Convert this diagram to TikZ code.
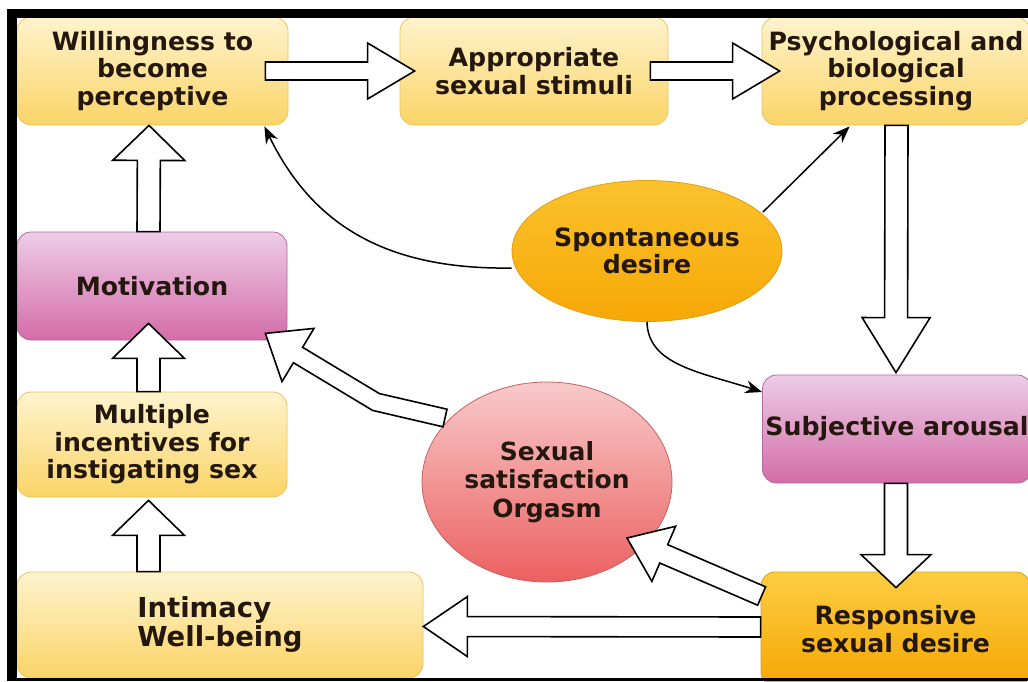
\documentclass[tikz,border=0pt]{standalone}
\usepackage{fontspec}
\setmainfont{DejaVu Sans}
\usetikzlibrary{calc,arrows.meta,shapes.geometric}
\definecolor{txt}{HTML}{24180E}
\definecolor{ytop}{HTML}{FEF3CE}
\definecolor{ybot}{HTML}{FAD466}
\definecolor{yline}{HTML}{E6C467}
\definecolor{ptop}{HTML}{ECCDE8}
\definecolor{pbot}{HTML}{D46CA8}
\definecolor{pline}{HTML}{B46A9E}
\definecolor{otop}{HTML}{FCCD42}
\definecolor{obot}{HTML}{F6A704}
\definecolor{oline}{HTML}{E49E10}
\definecolor{stop}{HTML}{FBC22C}
\definecolor{sbot}{HTML}{F6A806}
\definecolor{rtop}{HTML}{F8CACA}
\definecolor{rbot}{HTML}{EC6060}
\definecolor{rline}{HTML}{C86060}
\tikzset{
  lab/.style={text=txt, font=\bfseries\fontsize{25.2}{27.5}\selectfont, align=center, inner sep=0pt},
  ybox/.style={lab, rounded corners=14pt, draw=yline, line width=0.8pt, top color=ytop, bottom color=ybot},
  pbox/.style={lab, rounded corners=14pt, draw=pline, line width=0.8pt, top color=ptop, bottom color=pbot},
  obox/.style={lab, rounded corners=14pt, draw=oline, line width=0.8pt, top color=otop, bottom color=obot},
  oell/.style={lab, ellipse, draw=oline, line width=0.8pt, top color=stop, bottom color=sbot},
  rell/.style={lab, ellipse, draw=rline, line width=0.8pt, top color=rtop, bottom color=rbot, font=\bfseries\fontsize{25}{28.5}\selectfont},
  barrow/.style={draw=black, fill=white, line width=1.6pt, line join=miter},
  thin/.style={draw=black, line width=1.5pt, -{Stealth[length=17pt,width=13pt]}},
}
% block arrow: from, to, shaft half width, head half width, head length
\newcommand\blockarr[5]{%
  \coordinate (ba-h) at ($(#2)!#5!(#1)$);
  \draw[barrow] ($(#1)!#3!90:(#2)$) -- ($(ba-h)!#3!90:(#2)$) -- ($(ba-h)!#4!90:(#2)$)
     -- (#2) -- ($(ba-h)!#4!-90:(#2)$) -- ($(ba-h)!#3!-90:(#2)$) -- ($(#1)!#3!-90:(#2)$) -- cycle;
}
\begin{document}
\begin{tikzpicture}[x=1pt,y=-1pt]
\useasboundingbox (0,0) rectangle (1028,681);
\fill[white] (0,0) rectangle (1028,681);
\begin{scope}
\clip (0,0) rectangle (1028,681);
% boxes
\node[ybox, minimum width=271pt, minimum height=108pt] (will) at (152.5,71) {Willingness to\\become\\perceptive};
\node[ybox, minimum width=268pt, minimum height=108pt] (appr) at (534,71) {Appropriate\\sexual stimuli};
\node[ybox, minimum width=268pt, minimum height=108pt] (psych) at (896,71) {Psychological and\\biological\\processing};
\node[pbox, minimum width=270pt, minimum height=108pt] (motiv) at (152,286) {Motivation};
\node[ybox, minimum width=270pt, minimum height=105pt] (mult) at (152,444.5) {Multiple\\incentives for\\instigating sex};
\node[ybox, minimum width=406pt, minimum height=106pt, align=left, font=\bfseries\fontsize{27.5}{29}\selectfont] (intim) at (220,625) {Intimacy\\Well-being};
\node[oell, minimum width=270pt, minimum height=141pt] (spont) at (647,251) {Spontaneous\\desire};
\node[rell, minimum width=250pt, minimum height=200pt] (sat) at (547,482) {Sexual\\satisfaction\\Orgasm};
\node[pbox, minimum width=269pt, minimum height=108pt] (subj) at (897,429) {Subjective arousal};
\node[obox, minimum width=269pt, minimum height=114pt] (resp) at (895.5,629) {Responsive\\sexual desire};
% block arrows
\blockarr{$(will.east)+(-23,0)$}{$(appr.west)+(15,0)$}{9pt}{28pt}{47pt}
\blockarr{$(appr.east)+(-18,0)$}{$(psych.west)+(18,0)$}{9pt}{28pt}{47pt}
\blockarr{$(psych.south)+(0.5,0)$}{$(subj.north)+(-1,-2)$}{11.5pt}{34pt}{55pt}
\blockarr{$(subj.south)+(-1,0)$}{$(resp.north)+(0.5,16)$}{11.5pt}{35pt}{33pt}
\blockarr{$(resp.west)+(0,-2)$}{$(intim.east)+(0,1.5)$}{10pt}{30pt}{44pt}
\blockarr{$(resp.west)+(1,-33)$}{$(sat.center)+(80,56)$}{10pt}{30pt}{40pt}
\blockarr{$(motiv.north)+(-3.5,0)$}{$(will.south)+(-3.5,0)$}{11.5pt}{36pt}{35pt}
\blockarr{$(mult.north)+(-3.5,0)$}{$(motiv.south)+(-3.5,-17)$}{11.5pt}{36pt}{35pt}
\blockarr{$(intim.north -| mult.south)+(-3.5,0)$}{$(mult.south)+(-3.5,3)$}{11.5pt}{36pt}{35pt}
% bent block arrow from satisfaction to motivation
\coordinate (g-tail) at ($(sat.center)+(-102,-64)$);
\coordinate (g-tip) at ($(motiv.south east)+(-22,-7)$);
\draw[barrow] ($(g-tail)+(2,-8.8)$) -- (379.4,393.6) -- (302.6,347.3) -- (314,328.4) -- (g-tip)
  -- (282,381.6) -- (293.4,362.7) -- (372.6,410.4) -- ($(g-tail)+(-2,8.8)$) -- cycle;
% thin arrows
\draw[thin] ($(spont.west)+(0,17)$) .. controls (380,270) and (310,220) .. ($(will.south east)+(-24,1)$);
\draw[thin] ($(spont.center)+(116,-39)$) -- ($(psych.south west)+(88,1)$);
\draw[thin] (spont.south) .. controls (648,365) and (700,372) .. ($(subj.west)+(0,-37)$);
\end{scope}
% frame
\fill[black] (7,9) rectangle (1028,17.5);
\fill[black] (7,9) rectangle (16.5,681);
\fill[black] (7,677.5) rectangle (1028,681);
\end{tikzpicture}
\end{document}
